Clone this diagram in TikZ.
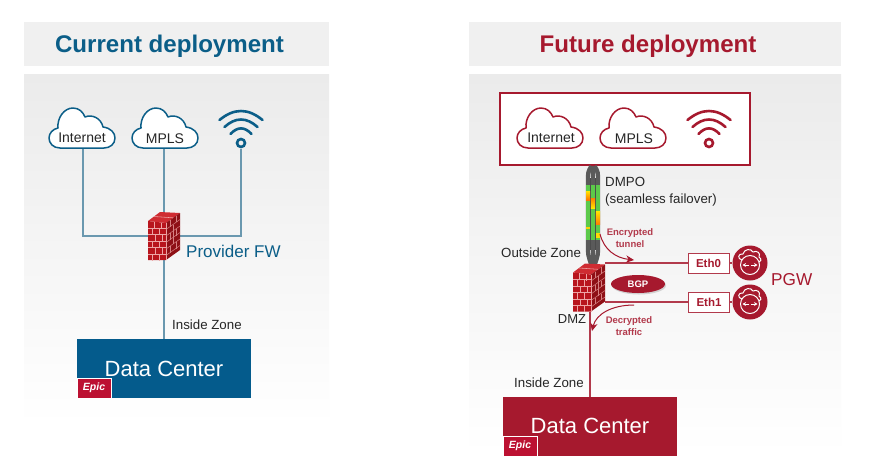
\documentclass[tikz,border=0pt]{standalone}
\usepackage{fontspec}
\setmainfont{Liberation Sans}
\usetikzlibrary{arrows.meta,shapes.geometric,shadows}
\definecolor{band}{HTML}{F0F0F0}
\definecolor{bodytop}{HTML}{EBEBEB}
\definecolor{blu}{HTML}{0B5E88}
\definecolor{blufill}{HTML}{045B8C}
\definecolor{bluline}{HTML}{6A98AF}
\definecolor{crim}{HTML}{A6192E}
\definecolor{crimline}{HTML}{B23A4C}
\definecolor{epicred}{HTML}{BC1132}
\definecolor{txt}{HTML}{262626}
\definecolor{brickF}{HTML}{B8151D}
\definecolor{brickS}{HTML}{8E1016}
\definecolor{brickT}{HTML}{CF2C32}
\definecolor{mortar}{HTML}{EDA5A5}
\definecolor{greenT}{HTML}{5CC94A}
\definecolor{grayT}{HTML}{5A5A5A}
\tikzset{
  x=1pt,y=-1pt,
  bandbox/.style={fill=band,draw=none},
  bodybox/.style={top color=bodytop,bottom color=white,draw=none},
  title/.style={font=\fontsize{24.1}{26}\selectfont\bfseries,inner sep=0},
  slot/.style={inner sep=0,minimum width=66pt,minimum height=40pt},
  wifislot/.style={inner sep=0,minimum width=44pt,minimum height=40pt},
  fwslot/.style={inner sep=0,minimum width=32pt,minimum height=48pt},
  cloudtxt/.style={font=\fontsize{14}{16}\selectfont,text=txt,inner sep=0},
  plain/.style={font=\fontsize{13.3}{15}\selectfont,text=txt,inner sep=0},
  dmz/.style={font=\fontsize{13}{16}\selectfont,text=txt,inner sep=0},
  dc/.style={inner sep=0,minimum width=174pt,minimum height=59pt,text=white,font=\fontsize{22}{26}\selectfont},
  epic/.style={inner sep=0,minimum width=34pt,minimum height=20pt,fill=epicred,draw=white,line width=.4pt,text=white,font=\fontsize{10.5}{11}\selectfont\bfseries\itshape},
  ethbox/.style={draw=crimline,fill=white,line width=1pt,inner sep=0,minimum width=41pt,minimum height=20pt,text=crim,font=\fontsize{11.5}{12}\selectfont\bfseries},
  gwnode/.style={circle,fill=crim,inner sep=0,minimum size=35pt},
  note/.style={font=\fontsize{9.5}{11.5}\selectfont\bfseries,text=crimline,inner sep=0,align=center},
  bigred/.style={font=\fontsize{17.2}{20}\selectfont,text=crim,inner sep=0},
  conB/.style={draw=bluline,line width=1.3pt},
  conR/.style={draw=crimline,line width=1.2pt},
  flow/.style={draw=crim,line width=1pt,-{Stealth[length=8pt,width=7.5pt]}},
  strand/.style={draw=grayT,line width=4.4pt},
}
\newcommand{\cloudpath}[3]{%
  \draw[shift={(#1,#2)},draw=#3,fill=white,line width=1.5pt,line join=round]
   (11,40) .. controls (4,40) and (0,35) .. (0,30) .. controls (0,25) and (4,21) .. (9,20)
   .. controls (8,10) and (15,0) .. (24,0) .. controls (30,0) and (34,4) .. (36,9)
   .. controls (43,6) and (52,10) .. (54,19) .. controls (62,20) and (66,25) .. (66,30)
   .. controls (66,36) and (61,40) .. (55,40) -- cycle;}
\newcommand{\wifipath}[3]{%
  \begin{scope}[shift={(#1,#2)},draw=#3,line width=2.6pt,line cap=round]
   \draw (-21.5,-23) .. controls (-7,-35) and (7,-35) .. (21.5,-23);
   \draw (-16.5,-16) .. controls (-5.5,-26) and (5.5,-26) .. (16.5,-16);
   \draw (-10.5,-9) .. controls (-3.5,-16.5) and (3.5,-16.5) .. (10.5,-9);
   \draw (0,0) circle[radius=4];
  \end{scope}}
\newcommand{\firewall}[2]{%
  \begin{scope}[shift={(#1,#2)}]
   \fill[brickF] (0,9) -- (18,11) -- (18,48) -- (0,48) -- cycle;
   \fill[brickT] (0,9) -- (12,0) -- (32,1) -- (18,11) -- cycle;
   \fill[brickS] (18,11) -- (32,1) -- (32,38) -- (18,48) -- cycle;
   \begin{scope}[draw=mortar,line width=.55pt]
    \foreach \yy in {16,22.5,29,35.5,42}{\draw (0,\yy) -- (18,\yy);}
    \foreach \xx/\yy in {6/9.6,13/10.6,4/16,11/16,7/22.5,14/22.5,4/29,11/29,7/35.5,14/35.5,4/42,11/42}{\draw (\xx,\yy) -- (\xx,\yy+6.5);}
    \draw (6,4.5) -- (25,5.8);
    \draw (18,11) -- (18,48);
   \end{scope}
   \begin{scope}[draw=mortar!75!brickS,line width=.5pt]
    \foreach \dd in {6.5,13,19.5,26,32.5}{\draw (18,11+\dd) -- (32,1+\dd);}
    \foreach \xx/\yy in {22/8,28/3.8,25/12.5,25/19,22/21,28/17,25/25.5,22/34,28/30}{\draw (\xx,\yy) -- (\xx,\yy+6.5);}
   \end{scope}
  \end{scope}}
\newcommand{\gwicon}[2]{%
  \begin{scope}[shift={(#1,#2)},draw=white,line width=1pt]
   \draw (-8,-3) .. controls (-13,-4) and (-12,-10) .. (-7,-9) .. controls (-6,-14) and (1,-15) .. (3,-11)
     .. controls (7,-13) and (11,-10) .. (9,-6) .. controls (12,-4) and (11,-1) .. (9,-1);
   \draw (0,2) circle[radius=9.5];
   \draw[line width=1pt,-{Stealth[length=3.5pt,width=4pt]}] (-1,2) -- (-7.5,2);
   \draw[line width=1pt,-{Stealth[length=3.5pt,width=4pt]}] (1,2) -- (7.5,2);
  \end{scope}}
\begin{document}
\begin{tikzpicture}
\useasboundingbox (0,0) rectangle (874,475);
\fill[white] (0,0) rectangle (874,475);
% panels
\path[bandbox] (24,22) rectangle (329,66);
\path[bodybox] (24,74) rectangle (329,425);
\path[bandbox] (469,22) rectangle (841,66);
\path[bodybox] (469,74) rectangle (841,455);
\node[title,text=blu] (tl) at (169.5,46) {Current deployment};
\node[title,text=crim] (tr) at (648,46) {Future deployment};
% ---- left
\node[slot] (inetL) at (83,128) {};
\node[slot] (mplsL) at (165,128) {};
\node[wifislot] (wifiL) at (241,129) {};
\node[fwslot] (fwL) at (164,236) {};
\node[dc,fill=blufill] (dcL) at (164,368.5) {};
\draw[conB] (inetL.south) |- (fwL.west);
\draw[conB] (mplsL.south -| fwL.north) -- (fwL.north);
\draw[conB] (wifiL.south) |- (fwL.east);
\draw[conB] (fwL.south) -- (dcL.north);
\cloudpath{49}{108}{blu}
\cloudpath{132}{108}{blu}
\wifipath{241}{143}{blu}
\node[cloudtxt] (inetLt) at (82,138) {Internet};
\node[cloudtxt] (mplsLt) at (165,139) {MPLS};
\firewall{148}{212}
\node[font=\fontsize{17}{18}\selectfont,text=blu,inner sep=0,anchor=west] (pfw) at (186,251) {Provider FW};
\node[plain,anchor=west] (izL) at (172,324.5) {Inside Zone};
\node[dc] (dcLt) at (164,369) {Data Center};
\node[epic] (epL) at (94,388) {Epic};
% ---- right
\node[draw=crim,line width=2.4pt,fill=white,inner sep=0,minimum width=250pt,minimum height=72pt] (box) at (625,129) {};
\node[slot] (inetR) at (550,128) {};
\node[slot] (mplsR) at (633,128) {};
\node[wifislot] (wifiR) at (709,129) {};
\cloudpath{517}{108}{crim}
\cloudpath{600}{108}{crim}
\wifipath{709}{143}{crim}
\node[cloudtxt] (inetRt) at (551,138) {Internet};
\node[cloudtxt] (mplsRt) at (634,139) {MPLS};
% tunnel
\coordinate (tt) at (593,166);
\coordinate (tb) at (593,265);
\draw[strand] ([xshift=-1.5]tt) .. controls ([xshift=-5]593,172) .. ([xshift=-5]593,182) -- ([xshift=-5]593,245) .. controls ([xshift=-5]593,255) .. ([xshift=-1.5]tb);
\draw[strand] (tt) -- (tb);
\draw[strand] ([xshift=1.5]tt) .. controls ([xshift=5]593,172) .. ([xshift=5]593,182) -- ([xshift=5]593,245) .. controls ([xshift=5]593,255) .. ([xshift=1.5]tb);
\draw[draw=black!70,line width=.5pt] (590.5,178) -- (590.5,250) (595.5,178) -- (595.5,250);
\fill[greenT] (586,185) rectangle (590.2,240);
\fill[greenT] (590.8,185) rectangle (595.2,240);
\fill[greenT] (595.8,185) rectangle (600,240);
\shade[top color=yellow!80!orange,bottom color=orange!90!red] (586,191) rectangle (590.2,200);
\shade[top color=orange,bottom color=yellow!80!orange] (590.8,198) rectangle (595.2,208);
\shade[top color=yellow!80!orange,bottom color=orange] (595.8,211) rectangle (600,224);
\fill[yellow!70!orange] (586,227) rectangle (590.2,229);
\fill[yellow!80!orange] (595.8,233) rectangle (600,238);
\node[inner sep=0,font=\fontsize{13.3}{17}\selectfont,text=txt,align=left,anchor=west] (dmpo) at (605,192) {DMPO\\(seamless failover)};
\node[plain,anchor=west] (oz) at (501,253) {Outside Zone};
\node[note] (enc) at (630,238) {Encrypted\\tunnel};
\node[fwslot] (fwR) at (589,287.5) {};
\node[gwnode] (gw0) at (750,263) {};
\node[gwnode] (gw1) at (750,302) {};
\node[ethbox] (eth0) at (708.5,263) {Eth0};
\node[ethbox] (eth1) at (709,302) {Eth1};
\node[dc,fill=crim] (dcR) at (590,426.5) {};
\draw[conR] (eth0.west) -- (eth0.west -| fwR.east);
\draw[conR] (eth1.west) -- (eth1.west -| fwR.east);
\draw[conR] (eth0.east) -- (gw0.west);
\draw[conR] (eth1.east) -- (gw1.west);
\draw[conR] (dcR.north) -- (dcR.north |- fwR.south);
\firewall{573}{263.5}
\gwicon{750}{263}
\gwicon{750}{302}
\node[bigred,anchor=west] (pgw) at (771,280) {PGW};
\node[ellipse,fill=crim,inner sep=0,minimum width=54pt,minimum height=18pt,text=white,font=\fontsize{9.5}{11}\selectfont\bfseries,drop shadow={opacity=.3,shadow xshift=1pt,shadow yshift=-1.5pt}] (bgp) at (638,284) {BGP};
\node[dmz] (dmzt) at (572,319) {DMZ};
\node[note] (dec) at (629,326) {Decrypted\\traffic};
\coordinate (encS) at (600,234);
\coordinate (encE) at (634,260);
\coordinate (decS) at (634,305);
\coordinate (decE) at (592,331);
\draw[flow] (encS) .. controls (604,250) and (616,258) .. (encE);
\draw[flow] (decS) .. controls (612,305) and (596,314) .. (decE);
\node[plain,anchor=west] (izR) at (514,383) {Inside Zone};
\node[dc] (dcRt) at (590,426) {Data Center};
\node[epic] (epR) at (520,446) {Epic};
\end{tikzpicture}
\end{document}
